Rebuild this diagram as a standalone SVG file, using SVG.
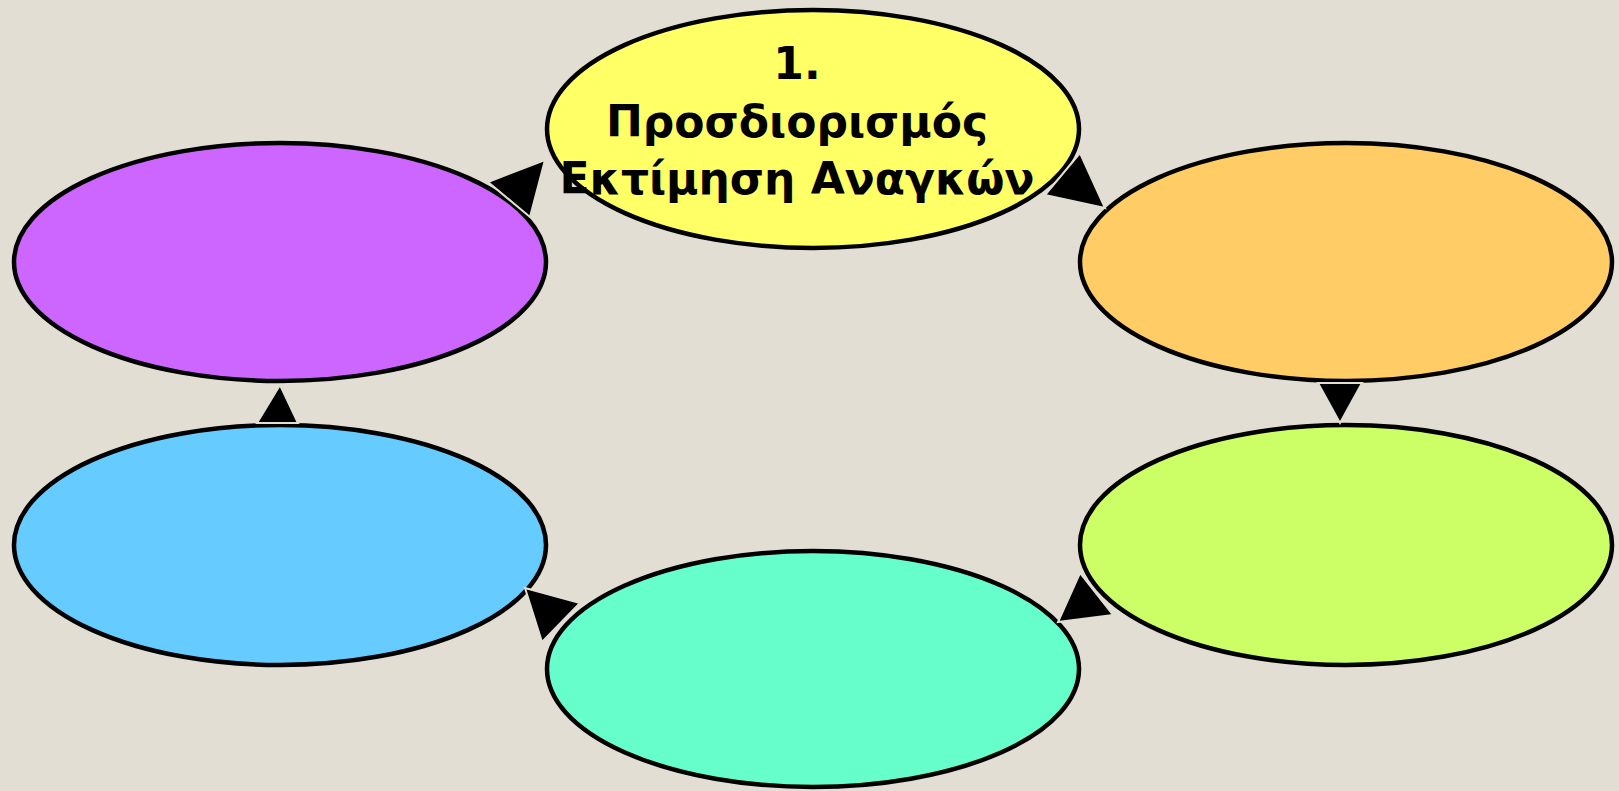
<svg xmlns="http://www.w3.org/2000/svg" width="1619" height="791" viewBox="0 0 1619 791">
<style>
.node{stroke:#000;stroke-width:4.5}
.lbl{font-family:"DejaVu Sans","Liberation Sans",sans-serif;font-weight:bold;font-size:44px;fill:#000;text-anchor:middle}
.arr{fill:#000;stroke:#E3DED3;stroke-width:2;stroke-linejoin:miter}
</style>
<rect width="1619" height="791" fill="#E3DED3"/>
<g id="n1"><ellipse class="node" cx="813" cy="129" rx="266" ry="119" fill="#FFFF66"/>
<text class="lbl"><tspan x="797" y="79">1.</tspan><tspan x="797" y="137">Προσδιορισμός</tspan><tspan x="797" y="194">Εκτίμηση Αναγκών</tspan></text></g>
<g id="n2"><ellipse class="node" cx="1346" cy="262" rx="266" ry="119" fill="#FFCC66"/></g>
<g id="n3"><ellipse class="node" cx="1346" cy="545" rx="266" ry="120" fill="#CCFF66"/></g>
<g id="n4"><ellipse class="node" cx="813" cy="669" rx="266" ry="118" fill="#66FFCC"/></g>
<g id="n5"><ellipse class="node" cx="280" cy="545" rx="266" ry="120" fill="#66CCFF"/></g>
<g id="n6"><ellipse class="node" cx="280" cy="262" rx="266" ry="119" fill="#CC66FF"/></g>
<g id="connectors">
<polygon class="arr" points="1080,153 1045,195 1105,208"/>
<polygon class="arr" points="1318,383 1362,383 1340,423"/>
<polygon class="arr" points="1080,573 1058,622 1113,615"/>
<polygon class="arr" points="580,603 525,588 542,642"/>
<polygon class="arr" points="257,423 298,423 280,385"/>
<polygon class="arr" points="488,182 530,217 545,160"/>
</g>
</svg>
